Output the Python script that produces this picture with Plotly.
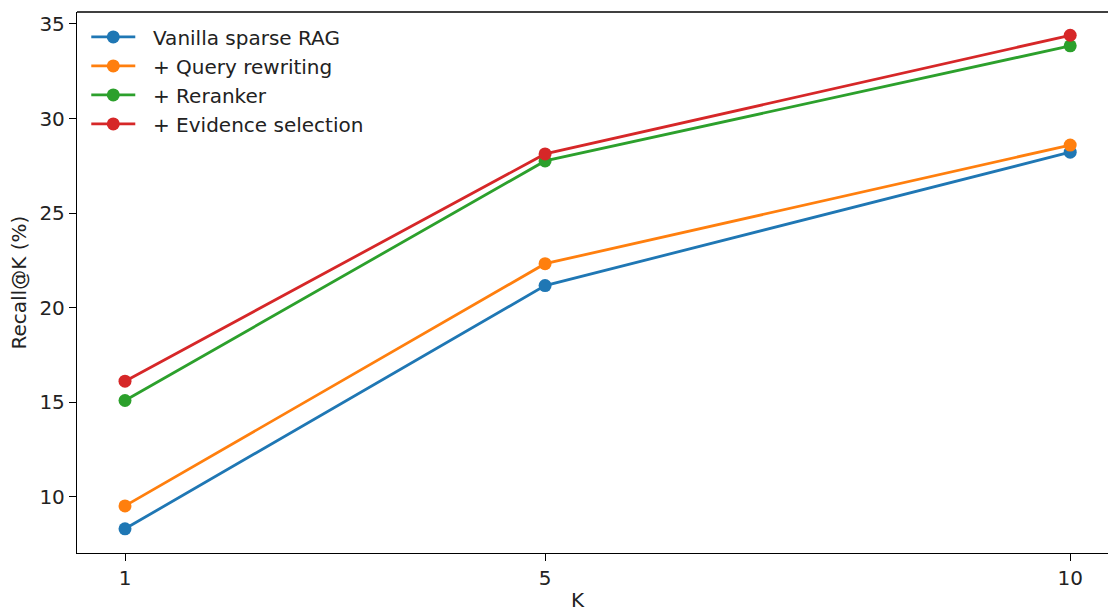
import plotly.graph_objects as go

k_values = [1, 5, 10]
series_names = ["Vanilla sparse RAG", "+ Query rewriting", "+ Reranker", "+ Evidence selection"]
vanilla = [8.32, 21.17, 28.22]
query_rewriting = [9.53, 22.33, 28.6]
reranker = [15.1, 27.76, 33.84]
evidence_selection = [16.12, 28.13, 34.4]
y_ticks = [10, 15, 20, 25, 30, 35]
colors = ["#1f77b4", "#ff7f0e", "#2ca02c", "#d62728"]

fig = go.Figure()
for i, (name, vals, c) in enumerate(zip(series_names, [vanilla, query_rewriting, reranker, evidence_selection], colors)):
    fig.add_trace(go.Scatter(
        x=k_values, y=vals, mode="lines+markers", name="\u00a0\u00a0" + name, legendgroup=f"g{i}",
        line=dict(color=c, width=2.8),
        marker=dict(color=c, size=13),
    ))

font = "DejaVu Sans"
W, H = 1110, 611
L, R, T, B = 77, 2, 12, 58
fig.update_layout(
    width=W, height=H,
    margin=dict(l=L, r=R, t=T, b=B),
    paper_bgcolor="white", plot_bgcolor="white",
    font=dict(family=font, size=20, color="#222222"),
    showlegend=True,
    legend=dict(x=0.009, y=0.990, xanchor="left", yanchor="top",
                bgcolor="rgba(255,255,255,0)", font=dict(size=20),
                tracegroupgap=0, itemwidth=44),
    xaxis=dict(range=[0.543, 10.36], tickvals=k_values, ticktext=[str(k) for k in k_values],
               showgrid=False, zeroline=False, showline=True, linecolor="black", linewidth=1.3,
               mirror=False, ticks="outside", ticklen=7, tickwidth=1.3, tickcolor="black"),
    yaxis=dict(range=[7.04, 35.63], tickvals=y_ticks,
               showgrid=False, zeroline=False, showline=True, linecolor="black", linewidth=1.3,
               ticks="outside", ticklen=7, tickwidth=1.3, tickcolor="black"),
    shapes=[dict(type="line", xref="paper", yref="paper", x0=0, x1=1, y0=1, y1=1,
                 line=dict(color="black", width=1.3))],
    annotations=[
        dict(text="K", xref="paper", yref="paper", x=(578 - L) / (W - L - R), y=-(600 - (H - B)) / (H - T - B),
             xanchor="center", yanchor="middle", showarrow=False, font=dict(size=20)),
        dict(text="Recall@K (%)", xref="paper", yref="paper", x=-(77 - 18) / (W - L - R), y=0.5,
             xanchor="center", yanchor="middle", textangle=-90, showarrow=False, font=dict(size=20)),
    ],
)

fig.write_html("out.html", config={"displayModeBar": False},
               post_script="document.body.style.margin='0';document.body.style.overflow='hidden';")
